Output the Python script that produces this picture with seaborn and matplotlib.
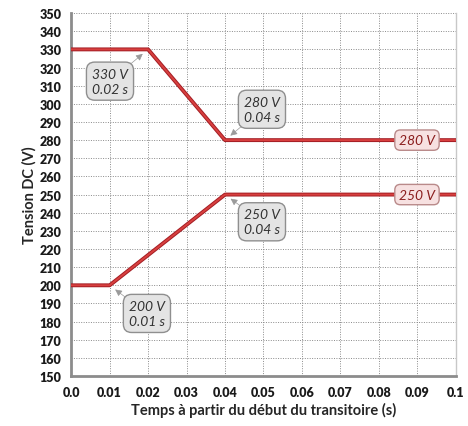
import matplotlib
matplotlib.use("Agg")
import matplotlib.pyplot as plt
import matplotlib.patheffects as pe
import seaborn as sns
import pandas as pd

# data
t_high = [0.0, 0.02, 0.04, 0.1]
v_high = [330, 330, 280, 280]
t_low = [0.0, 0.01, 0.04, 0.1]
v_low = [200, 200, 250, 250]

x_ticks = [0.0, 0.01, 0.02, 0.03, 0.04, 0.05, 0.06, 0.07, 0.08, 0.09, 0.1]
x_tick_labels = ['0.0', '0.01', '0.02', '0.03', '0.04', '0.05', '0.06', '0.07', '0.08', '0.09', '0.1']
y_ticks = list(range(150, 351, 10))

# (point, box position, text)
callouts = [
    ((0.02, 330), (0.0101, 312.5), '330 V\n0.02 s'),
    ((0.04, 280), (0.0496, 297), '280 V\n0.04 s'),
    ((0.04, 250), (0.0496, 235), '250 V\n0.04 s'),
    ((0.01, 200), (0.0197, 184.5), '200 V\n0.01 s'),
]
end_labels = [(0.0899, 280, '280 V'), (0.0899, 250, '250 V')]

sns.set_style('white')
plt.rcParams['font.family'] = ['Lato', 'DejaVu Sans']

fig = plt.figure(figsize=(4.68, 4.27), dpi=100)
ax = fig.add_axes([0.152, 0.117, 0.822, 0.850])

df = pd.concat([
    pd.DataFrame({'t': t_high, 'v': v_high, 'serie': 'haut'}),
    pd.DataFrame({'t': t_low, 'v': v_low, 'serie': 'bas'}),
])
red_fx = [pe.Stroke(linewidth=2.8, foreground='#a31d24'), pe.Normal()]
for name, grp in df.groupby('serie'):
    sns.lineplot(data=grp, x='t', y='v', ax=ax, color='#d8403f', linewidth=1.4,
                 sort=False, estimator=None, legend=False, path_effects=red_fx, zorder=3)

ax.set_xlim(0, 0.1)
ax.set_ylim(150, 350)
ax.set_xticks(x_ticks)
ax.set_xticklabels(x_tick_labels)
ax.set_yticks(y_ticks)
ax.tick_params(axis='both', labelsize=9, length=3, color='#888888', direction='out', pad=4)
for lab in ax.get_xticklabels() + ax.get_yticklabels():
    lab.set_fontweight('heavy')
    lab.set_color('#1a1a1a')

ax.grid(True, linestyle=(0, (1, 1.5)), color='#8a8a8a', linewidth=0.7)
ax.set_axisbelow(True)
for side in ['left', 'bottom']:
    ax.spines[side].set_color('#8c8c8c')
    ax.spines[side].set_linewidth(2)
ax.spines['right'].set_color('#c8c8c8')
ax.spines['right'].set_linewidth(1)
ax.spines['top'].set_visible(False)

ax.set_xlabel('Temps à partir du début du transitoire (s)', fontsize=10.5, fontweight='bold', labelpad=3)
ax.set_ylabel('Tension DC (V)', fontsize=10.5, fontweight='bold', labelpad=2)

for (pt, box, txt) in callouts:
    ax.annotate(txt, xy=pt, xytext=box, ha='center', va='center', multialignment='center',
                fontsize=10, style='italic', color='#333333', linespacing=1.3,
                bbox=dict(boxstyle='round,pad=0.4,rounding_size=0.6', fc='#e4e4e4', ec='#8f8f8f', lw=1),
                arrowprops=dict(arrowstyle='-|>', color='#9a9a9a', lw=0.5, mutation_scale=10,
                                shrinkA=0, shrinkB=5), zorder=5)

for (tx, vy, txt) in end_labels:
    ax.text(tx, vy, txt, ha='center', va='center', fontsize=10, style='italic', color='#8b1e1e',
            bbox=dict(boxstyle='round,pad=0.3,rounding_size=0.4', fc='#f7e1e1', ec='#b98a8a', lw=1),
            zorder=6)

fig.savefig('out.png', dpi=100)
